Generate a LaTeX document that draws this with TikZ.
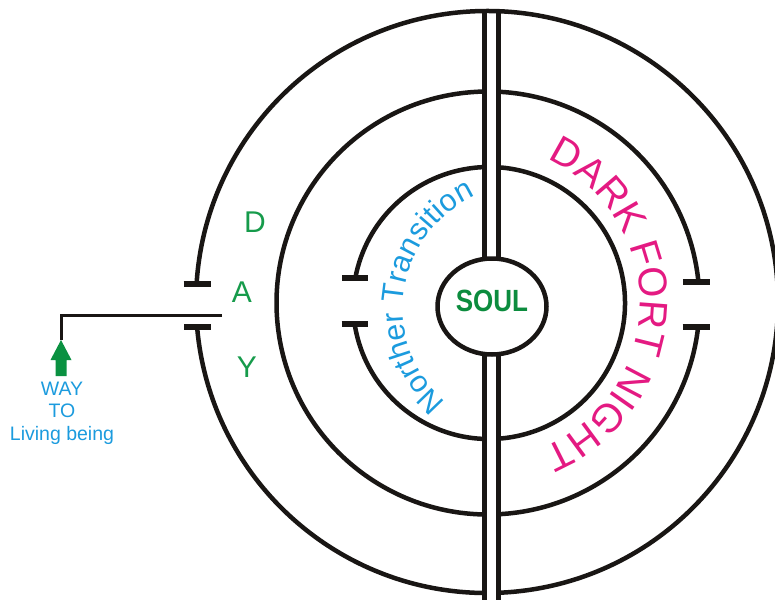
\documentclass[tikz,border=0pt]{standalone}
\usepackage{fontspec}
\newfontfamily\arial{Liberation Sans}
\usetikzlibrary{decorations.text,shapes.geometric}
\definecolor{dgreen}{RGB}{22,155,75}
\definecolor{sgreen}{RGB}{12,140,62}
\definecolor{agreen}{RGB}{10,145,65}
\definecolor{nblue}{RGB}{27,155,222}
\definecolor{dmag}{RGB}{228,26,130}
\definecolor{ink}{RGB}{25,22,20}
\begin{document}
\begin{tikzpicture}[x=1pt,y=1pt,
  ring/.style={draw=ink,line width=4.5pt},
  tickmark/.style={draw=ink,line width=5.5pt},
  link/.style={draw=ink,line width=3pt},
  daylbl/.style={text=dgreen,font=\arial\fontsize{30}{30}\selectfont,inner sep=0pt}]
\useasboundingbox (0,0) rectangle (775,-599);
\clip (0,0) rectangle (775,-599);
\fill[white] (0,0) rectangle (775,-599);

% centres
\coordinate (co) at (487,-302);
\coordinate (cm) at (488,-303);
\coordinate (ci) at (489,-303);

% outer ring with left gate
\draw[ring] (co) ++(184.93:291) coordinate (oB)
  arc[start angle=184.93,end angle=536.45,radius=291] coordinate (oT);
\draw[tickmark] ([xshift=-13pt]oT) -- ([xshift=14pt]oT);
\draw[tickmark] ([xshift=-13pt]oB) -- ([xshift=14pt]oB);

% middle ring with right gate
\draw[ring] (cm) ++(5.70:211.5) coordinate (mT)
  arc[start angle=5.70,end angle=353.48,radius=211.5] coordinate (mB);
\draw[tickmark] ([xshift=-15.5pt]mT) -- ([xshift=11.5pt]mT);
\draw[tickmark] ([xshift=-15.5pt]mB) -- ([xshift=11.5pt]mB);

% inner ring with left gate
\draw[ring] (ci) ++(188.88:136) coordinate (iB)
  arc[start angle=188.88,end angle=529.41,radius=136] coordinate (iT);
\draw[tickmark] ([xshift=-13pt]iT) -- ([xshift=13pt]iT);
\draw[tickmark] ([xshift=-13pt]iB) -- ([xshift=13pt]iB);

% double vertical channel
\fill[white] (486.9,-14) rectangle (495.6,-600);
\coordinate (l1t) at (484.5,-11);
\coordinate (l1b) at (484.5,-600);
\coordinate (l2t) at (498,-11);
\coordinate (l2b) at (498,-600);
\draw[ring,line width=5pt] (l1t) -- (l1b);
\draw[ring,line width=5pt] (l2t) -- (l2b);

% soul
\node[ellipse,draw=ink,line width=4.5pt,fill=white,minimum width=109pt,minimum height=96pt,inner sep=0pt] (soul) at (492,-306.5) {};
\node[text=sgreen,font=\arial\bfseries\fontsize{26}{26}\selectfont,inner sep=0pt] (soullbl) at (492,-301) {\scalebox{1}[1.18]{SOUL}};

% entry path
\coordinate (entry) at (222,-315);
\coordinate (bend) at (61,-315);
\coordinate (tip) at (61,-340);
\draw[link] (entry) -- (bend) -- (tip);
\fill[agreen] (tip) -- (71.5,-360) -- (66.5,-360) -- (66.5,-376) -- (55.5,-376) -- (55.5,-360) -- (50.5,-360) -- cycle;
\node[text=nblue,align=center,font=\arial\fontsize{19.5}{22.5}\selectfont,inner sep=0pt] (way) at (62,-413) {WAY\\TO\\Living being};

% DAY
\node[daylbl] (dD) at (255,-222) {D};
\node[daylbl] (dA) at (242,-292) {A};
\node[daylbl] (dY) at (247,-367) {Y};

% curved labels
\coordinate (nc) at (527,-309);
\path[decorate,decoration={text along path,
  text={|\arial\fontsize{30.5}{30.5}\selectfont\color{nblue}|Norther Transition},
  text align=fit to path}]
  (nc) ++(229:124) arc[start angle=229,end angle=114.5,radius=124];
\coordinate (dc) at (483,-303);
\path[decorate,decoration={text along path,
  text={|\arial\fontsize{40}{40}\selectfont\color{dmag}|DARK FORT NIGHT},
  text align=fit to path}]
  (dc) ++(66:157) arc[start angle=66,end angle=-67.6,radius=157];
\end{tikzpicture}
\end{document}
